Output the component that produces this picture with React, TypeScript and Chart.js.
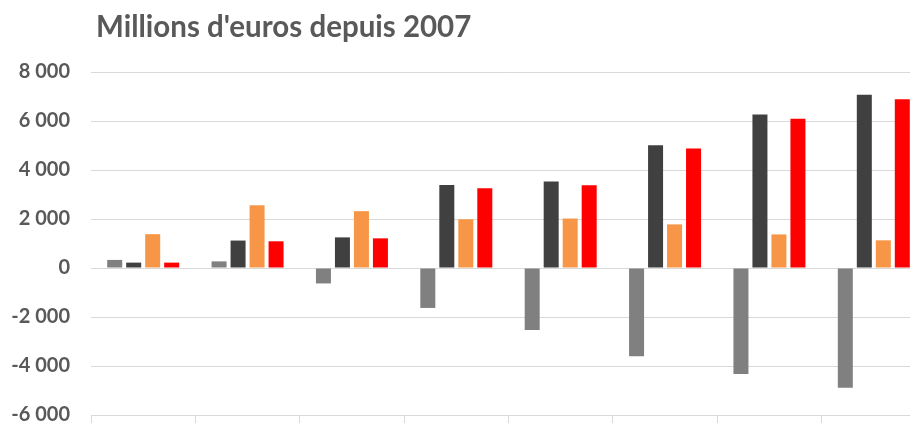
import { useEffect, useRef } from "react";
import { Chart, registerables } from "chart.js";

Chart.register(...registerables);

const title = "Millions d'euros depuis 2007";
const categories = ["2008", "2009", "2010", "2011", "2012", "2013", "2014", "2015"];
const seriesNames = ["Série 1", "Série 2", "Série 3", "Série 4"];
const series1 = [330, 270, -630, -1630, -2530, -3600, -4330, -4890];
const series2 = [220, 1120, 1250, 3390, 3530, 5010, 6270, 7070];
const series3 = [1380, 2560, 2320, 1990, 2020, 1780, 1370, 1130];
const series4 = [220, 1090, 1210, 3260, 3380, 4880, 6090, 6890];
const seriesColors = ["#808080", "#404040", "#F79646", "#FF0000"];
const yMin = -6000;
const yMax = 8000;
const yStep = 2000;

const fmt = (v: number) => {
  const s = String(Math.abs(v)).replace(/\B(?=(\d{3})+(?!\d))/g, " ");
  return (v < 0 ? "-" : "") + s;
};

const titlePlugin = {
  id: "leftTitle",
  afterDraw(chart: any) {
    const { ctx, chartArea } = chart;
    ctx.save();
    ctx.font = "bold 29.5px Lato";
    ctx.fillStyle = "#595959";
    ctx.textAlign = "left";
    ctx.textBaseline = "alphabetic";
    ctx.fillText(title, chartArea.left + 5, 37);
    ctx.restore();
  },
};

export default function App() {
  const ref = useRef<HTMLCanvasElement>(null);
  useEffect(() => {
    if (!ref.current) return;
    const all = [series1, series2, series3, series4];
    const chart = new Chart(ref.current, {
      type: "bar",
      data: {
        labels: categories,
        datasets: all.map((d, i) => ({
          label: seriesNames[i],
          data: d,
          backgroundColor: seriesColors[i],
          borderWidth: 0,
          categoryPercentage: 0.728,
          barPercentage: 0.79,
        })),
      },
      options: {
        animation: false,
        responsive: false,
        layout: { padding: { top: 72, right: 4, bottom: 0, left: 0 } },
        plugins: {
          legend: { display: false },
          tooltip: { enabled: false },
          title: { display: false },
        },
        scales: {
          x: {
            afterFit: (scale: any) => {
              scale.height = 8;
            },
            grid: {
              drawOnChartArea: false,
              drawTicks: true,
              tickLength: 8,
              color: "#d9d9d9",
            },
            border: { display: true, color: "#d9d9d9" },
            ticks: { display: false },
          },
          y: {
            min: yMin,
            max: yMax,
            afterFit: (scale: any) => {
              scale.width = 91;
              scale.paddingTop = 0;
              scale.paddingBottom = 0;
            },
            ticks: {
              stepSize: yStep,
              padding: 21,
              color: "#595959",
              font: { family: "Lato", weight: "bold", size: 20 },
              callback: (v: any) => fmt(Number(v)),
            },
            grid: { color: "#d9d9d9", drawTicks: false },
            border: { display: false },
          },
        },
      },
      plugins: [titlePlugin],
    });
    return () => chart.destroy();
  }, []);
  return (
    <div style={{ position: "fixed", top: 0, left: 0, width: 910, height: 423, overflow: "hidden", background: "#fff" }}>
      <canvas ref={ref} width={930} height={423} style={{ display: "block", width: 930, height: 423 }} />
    </div>
  );
}
